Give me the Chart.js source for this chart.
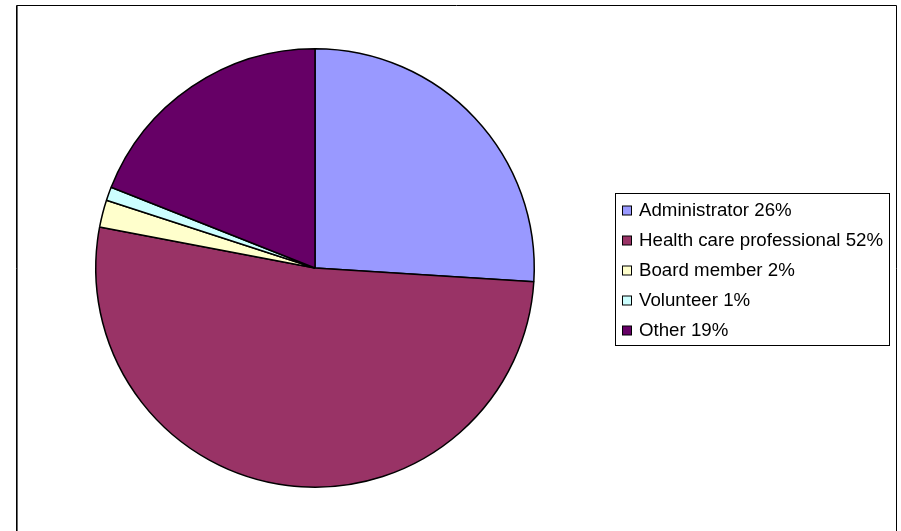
<!DOCTYPE html>
<html>
<head>
<meta charset="utf-8">
<script src="https://cdn.jsdelivr.net/npm/chart.js@4/dist/chart.umd.min.js"></script>
<style>
  html, body { margin: 0; padding: 0; background: #ffffff; }
  #wrap { width: 901px; height: 531px; position: relative; }
</style>
</head>
<body>
<div id="wrap"><canvas id="c" width="901" height="531"></canvas></div>
<script>
// Respondent roles (percent of total)
const categories = ['Administrator', 'Health care professional', 'Board member', 'Volunteer', 'Other'];
const shares = [26, 52, 2, 1, 19];
const sliceColors = ['#9999FF', '#993366', '#FFFFCC', '#CCFFFF', '#660066'];

// Outer frame around the whole chart
const framePlugin = {
  id: 'frame',
  beforeDraw(chart) {
    const ctx = chart.ctx;
    ctx.save();
    ctx.fillStyle = '#ffffff';
    ctx.fillRect(0, 0, chart.width, chart.height);
    ctx.strokeStyle = '#000000';
    ctx.lineWidth = 1;
    ctx.beginPath();
    ctx.moveTo(16.5, 560);
    ctx.lineTo(16.5, 5.5);
    ctx.lineTo(896.5, 5.5);
    ctx.lineTo(896.5, 560);
    ctx.stroke();
    // slight shadow on the left edge
    ctx.strokeStyle = '#666666';
    ctx.beginPath();
    ctx.moveTo(17.5, 6);
    ctx.lineTo(17.5, 560);
    ctx.stroke();
    ctx.restore();
  }
};

// Boxed legend on the right, built from the chart's labels and values
const boxLegendPlugin = {
  id: 'boxLegend',
  afterDraw(chart) {
    const ctx = chart.ctx;
    const labels = chart.data.labels;
    const ds = chart.data.datasets[0];
    const x0 = 615, y0 = 193, w = 274, h = 152;
    ctx.save();
    ctx.strokeStyle = '#000000';
    ctx.lineWidth = 1;
    ctx.strokeRect(x0 + 0.5, y0 + 0.5, w, h);
    ctx.font = '18.7px "Liberation Sans", Arial, sans-serif';
    ctx.textBaseline = 'middle';
    ctx.fillStyle = '#000000';
    const rowGap = 30.2;
    const firstY = 209.5;
    labels.forEach((lab, i) => {
      const cy = Math.round(firstY + i * rowGap);
      const sx = 622, s = 9;
      ctx.fillStyle = ds.backgroundColor[i];
      ctx.fillRect(sx + 0.5, cy - 4.5 + 0.5, s, s);
      ctx.strokeStyle = '#000000';
      ctx.strokeRect(sx + 0.5, cy - 4.5 + 0.5, s, s);
      ctx.fillStyle = '#000000';
      ctx.fillText(lab + ' ' + ds.data[i] + '%', 639, cy + 1);
    });
    ctx.restore();
  }
};

new Chart(document.getElementById('c'), {
  type: 'pie',
  data: {
    labels: categories,
    datasets: [{
      data: shares,
      backgroundColor: sliceColors,
      borderColor: '#000000',
      borderWidth: 1.5
    }]
  },
  options: {
    responsive: false,
    animation: false,
    rotation: 0,
    layout: { padding: { left: 95, right: 366, top: 48, bottom: 43 } },
    plugins: {
      legend: { display: false },
      tooltip: { enabled: false }
    }
  },
  plugins: [framePlugin, boxLegendPlugin]
});
</script>
</body>
</html>
